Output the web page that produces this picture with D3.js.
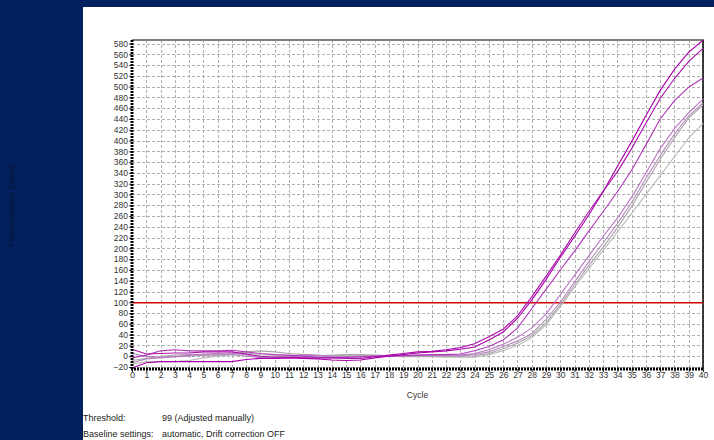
<!DOCTYPE html>
<html>
<head>
<meta charset="utf-8">
<script src="https://cdnjs.cloudflare.com/ajax/libs/d3/7.8.5/d3.min.js"></script>
<style>
body {margin: 0; background: #00205f;}
svg {display: block; font-family: "Liberation Sans", Arial, sans-serif;}
</style>
</head>
<body>
<svg id="chart" width="714" height="440"></svg>
<script>
// cycles and normalized fluorescence per well
var cycles = d3.range(0, 41);
var yTicks = d3.range(-20, 581, 20);

var wellA = [-22,-12,-10,-10,-10,-10,-10,-10,-6,-4,-4,-3,-4,-5,-7,-8,-7,-3,0,3,6,8,10,13,17,30,45,70,104,142,183,222,262,305,352,398,446,493,532,564,586];
var wellB = [13,4,5,6,6,8,8,8,4,0,-2,-2,-3,-3,-3,-4,-4,-1,2,5,8,9,12,16,23,36,50,75,110,148,187,228,268,306,342,385,432,478,515,547,571];
var wellC = [-3,2,10,12,10,10,10,11,8,5,3,2,0,-2,-3,-2,-1,0,1,1,2,3,3,4,10,18,30,52,88,124,160,195,232,268,305,345,392,440,474,499,516];
var wellD = [5,0,-2,-1,2,4,5,6,3,-3,-4,-2,2,1,-1,-2,-1,0,0,1,2,2,2,2,5,12,22,35,52,78,114,150,186,222,256,295,340,385,422,452,477];
var wellE = [-12,-5,-3,-1,0,2,3,3,0,-2,-1,0,3,2,0,0,0,1,0,0,1,1,1,1,3,8,18,28,42,68,100,138,175,210,246,285,330,372,412,446,470];
var wellF = [-8,-4,0,2,3,2,2,4,8,10,8,5,3,1,2,3,3,2,1,0,0,0,0,0,1,5,14,24,38,62,95,132,168,202,238,278,322,365,405,442,466];
var wellG = [-15,-10,-10,-10,-8,-3,0,3,6,3,2,1,-1,0,1,2,2,1,0,-1,-1,-1,-2,-2,-2,3,10,20,34,58,92,128,162,196,230,265,300,335,370,405,432];

var threshold = 99;

var wells = [
  {values: wellG, color: "#b8b8b8"},
  {values: wellF, color: "#aca4ac"},
  {values: wellE, color: "#b48cbc"},
  {values: wellD, color: "#b874c2"},
  {values: wellC, color: "#b038b8"},
  {values: wellB, color: "#ac10ac"},
  {values: wellA, color: "#a800a8"}
];

var svg = d3.select("#chart");

// white panel
svg.append("rect")
  .attr("x", 83).attr("y", 7)
  .attr("width", 631).attr("height", 433)
  .attr("fill", "#fff");

var pLeft = 132, pRight = 703, pTop = 40, pBottom = 369;

var x = d3.scaleLinear().domain([0, 40]).range([pLeft, pRight]);
var y = d3.scaleLinear().domain([-23.7, 586.5]).range([pBottom, pTop]);

// grid
svg.append("g")
  .selectAll("line")
  .data(cycles.slice(1))
  .enter().append("line")
    .attr("x1", d => Math.round(x(d)) + 0.5).attr("x2", d => Math.round(x(d)) + 0.5)
    .attr("y1", pTop).attr("y2", pBottom)
    .attr("stroke", "#b0b0b0")
    .attr("stroke-width", 1)
    .attr("stroke-dasharray", "3,2");

svg.append("g")
  .selectAll("line")
  .data(yTicks)
  .enter().append("line")
    .attr("x1", pLeft).attr("x2", pRight)
    .attr("y1", d => Math.round(y(d)) + 0.5).attr("y2", d => Math.round(y(d)) + 0.5)
    .attr("stroke", "#b0b0b0")
    .attr("stroke-width", 1)
    .attr("stroke-dasharray", "3,2");

// borders
svg.append("line")
  .attr("x1", pLeft).attr("x2", pRight + 1)
  .attr("y1", pTop).attr("y2", pTop)
  .attr("stroke", "#808080").attr("stroke-width", 2);
svg.append("line")
  .attr("x1", pRight).attr("x2", pRight)
  .attr("y1", pTop).attr("y2", pBottom)
  .attr("stroke", "#000").attr("stroke-width", 1.5);

// threshold
svg.append("line")
  .attr("x1", pLeft).attr("x2", pRight)
  .attr("y1", y(threshold)).attr("y2", y(threshold))
  .attr("stroke", "#d00000").attr("stroke-width", 1.5);

// curves
var line = d3.line()
  .x((d, i) => x(cycles[i]))
  .y(d => y(d));

svg.append("g")
  .selectAll("path")
  .data(wells)
  .enter().append("path")
    .attr("d", d => line(d.values))
    .attr("fill", "none")
    .attr("stroke", d => d.color)
    .attr("stroke-width", 1.1);

// axes
var xAxis = svg.append("g")
  .attr("transform", "translate(0," + pBottom + ")")
  .call(d3.axisBottom(x).tickValues(cycles).tickSize(3).tickFormat(d3.format("d")));
var yAxis = svg.append("g")
  .attr("transform", "translate(" + pLeft + ",0)")
  .call(d3.axisLeft(y).tickValues(yTicks).tickSize(3));

[xAxis, yAxis].forEach(function(g) {
  g.select(".domain").remove();
  g.selectAll(".tick line").attr("stroke", "#333");
  g.selectAll("text")
    .attr("fill", "#333")
    .style("font-size", "8.5px")
    .style("font-family", "Liberation Sans, Arial, sans-serif");
});
xAxis.selectAll("text").attr("dy", "0.5em").attr("y", 5);
yAxis.selectAll("text").attr("x", -4);

// thick dotted axis lines
svg.append("line")
  .attr("x1", pLeft - 1).attr("x2", pRight + 1)
  .attr("y1", pBottom).attr("y2", pBottom)
  .attr("stroke", "#000").attr("stroke-width", 3)
  .attr("stroke-dasharray", "2,1");
svg.append("line")
  .attr("x1", pLeft).attr("x2", pLeft)
  .attr("y1", pTop).attr("y2", pBottom)
  .attr("stroke", "#000").attr("stroke-width", 3)
  .attr("stroke-dasharray", "2,1");

// labels
svg.append("text")
  .attr("x", (pLeft + pRight) / 2).attr("y", 398)
  .attr("text-anchor", "middle")
  .attr("fill", "#333")
  .style("font-size", "8.5px")
  .text("Cycle");

svg.append("text")
  .attr("transform", "translate(15,205) rotate(-90)")
  .attr("text-anchor", "middle")
  .attr("fill", "#0a1430")
  .style("font-size", "9px")
  .text("Fluorescence (norm)");

var foot = [
  ["Threshold:", "99 (Adjusted manually)", 421],
  ["Baseline settings:", "automatic, Drift correction OFF", 437]
];
foot.forEach(function(f) {
  svg.append("text").attr("x", 83).attr("y", f[2])
    .attr("fill", "#222").style("font-size", "9px").text(f[0]);
  svg.append("text").attr("x", 162).attr("y", f[2])
    .attr("fill", "#222").style("font-size", "9px").text(f[1]);
});
</script>
</body>
</html>
